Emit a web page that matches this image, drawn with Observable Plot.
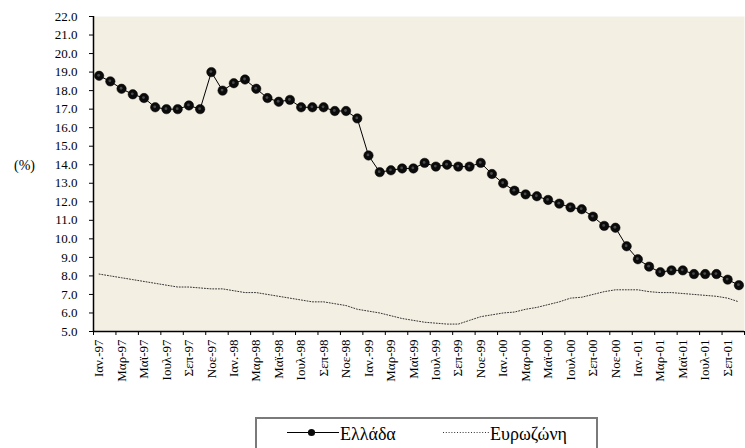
<!DOCTYPE html>
<html>
<head>
<meta charset="utf-8">
<script src="https://cdn.jsdelivr.net/npm/d3@7"></script>
<script src="https://cdn.jsdelivr.net/npm/@observablehq/plot@0.6"></script>
<style>
  html, body { margin: 0; padding: 0; background: #fff; }
  #wrap { position: relative; width: 745px; height: 448px; overflow: hidden; font-family: "Liberation Serif", "DejaVu Serif", serif; }
  #legend { position: absolute; left: 255px; top: 417px; width: 343px; height: 40px; border: 2px solid #7a7a7a; box-sizing: border-box; background: #fff; }
  .lg-text { position: absolute; font-family: "Liberation Serif", "DejaVu Serif", serif; font-size: 18px; line-height: 18px; color: #000; white-space: nowrap; }
  #legend-svg { position: absolute; left: 0; top: 0; }
</style>
</head>
<body>
<div id="wrap">
  <div id="chart"></div>
  <div id="legend"></div>
</div>
<script>
// ---- data ----
const monthNames = ["Ιαν.", "Φεβ", "Μαρ", "Απρ", "Μαϊ", "Ιουν", "Ιουλ", "Αυγ", "Σεπ", "Οκτ", "Νοε", "Δεκ"];
const years = ["97", "98", "99", "00", "01"];
const nMonths = 58; // Jan-97 .. Oct-01
const months = [];
for (const y of years) for (const m of monthNames) months.push(m + "-" + y);
months.length = nMonths;

const greece = [
  18.8, 18.5, 18.1, 17.8, 17.6, 17.1, 17.0, 17.0, 17.2, 17.0, 19.0, 18.0,
  18.4, 18.6, 18.1, 17.6, 17.4, 17.5, 17.1, 17.1, 17.1, 16.9, 16.9, 16.5,
  14.5, 13.6, 13.7, 13.8, 13.8, 14.1, 13.9, 14.0, 13.9, 13.9, 14.1, 13.5,
  13.0, 12.6, 12.4, 12.3, 12.1, 11.9, 11.7, 11.6, 11.2, 10.7, 10.6, 9.6,
  8.9, 8.5, 8.2, 8.3, 8.3, 8.1, 8.1, 8.1, 7.8, 7.5
];
const eurozone = [
  8.1, 8.0, 7.9, 7.8, 7.7, 7.6, 7.5, 7.4, 7.4, 7.35, 7.3, 7.3,
  7.2, 7.1, 7.1, 7.0, 6.9, 6.8, 6.7, 6.6, 6.6, 6.5, 6.4, 6.2,
  6.1, 6.0, 5.85, 5.7, 5.6, 5.5, 5.45, 5.4, 5.4, 5.6, 5.8, 5.9,
  6.0, 6.05, 6.2, 6.3, 6.45, 6.6, 6.8, 6.85, 7.0, 7.15, 7.25, 7.25,
  7.25, 7.15, 7.1, 7.1, 7.05, 7.0, 6.95, 6.9, 6.8, 6.6
];
const yTicks = [5, 6, 7, 8, 9, 10, 11, 12, 13, 14, 15, 16, 17, 18, 19, 20, 21, 22];
const seriesNames = ["Ελλάδα", "Ευρωζώνη"];
const yUnit = "(%)";

const rows = months.map((m, i) => ({i, m, gr: greece[i], ez: eurozone[i]}));
const labelIdx = d3.range(0, nMonths, 2);
const boundaryIdx = d3.range(-0.5, nMonths, 2).concat([nMonths - 0.5]);

const chart = Plot.plot({
  width: 745,
  height: 410,
  marginLeft: 93,
  marginRight: 1,
  marginTop: 16,
  marginBottom: 79,
  style: {fontFamily: "'Liberation Serif', 'DejaVu Serif', serif", fontSize: "13px", background: "#fff", color: "#000"},
  x: {type: "linear", domain: [-0.5, nMonths - 0.5]},
  y: {domain: [5, 22]},
  marks: [
    Plot.frame({fill: "#f3efe3", stroke: "none"}),
    Plot.axisY({ticks: yTicks, tickFormat: d => d.toFixed(1), tickSize: 4, tickPadding: 12, label: null, fontSize: 13}),
    Plot.axisX({ticks: boundaryIdx, tickSize: 4, tickFormat: () => "", label: null}),
    Plot.axisX({ticks: labelIdx, tickSize: 0, tickPadding: 8, tickRotate: -90, tickFormat: i => months[i], label: null, fontSize: 13}),
    Plot.ruleX([-0.5], {stroke: "#000", strokeWidth: 1.5}),
    Plot.ruleY([5], {stroke: "#000", strokeWidth: 1.5}),
    Plot.lineY(rows, {x: "i", y: "ez", stroke: "#333", strokeWidth: 1, strokeDasharray: "1,1.8"}),
    Plot.lineY(rows, {x: "i", y: "gr", stroke: "#000", strokeWidth: 1}),
    Plot.dot(rows, {x: "i", y: "gr", r: 4.7, fill: "#0b0b0b", stroke: "#000", strokeWidth: 0.5}),
    Plot.dot(rows, {x: "i", y: "gr", r: 1.4, fill: "#4a4a4a", dx: -0.5, dy: -0.5}),
    Plot.text([yUnit], {frameAnchor: "left", dx: -69, dy: -8, textAnchor: "middle", fontSize: 14})
  ]
});
document.getElementById("chart").appendChild(chart);

// ---- legend ----
const legend = document.getElementById("legend");
const ns = "http://www.w3.org/2000/svg";
const lsvg = document.createElementNS(ns, "svg");
lsvg.setAttribute("id", "legend-svg");
lsvg.setAttribute("width", 339);
lsvg.setAttribute("height", 36);
// offsets inside legend box: left border at 255 + 2px
const ox = 257, oy = 419;
function el(tag, attrs) { const e = document.createElementNS(ns, tag); for (const k in attrs) e.setAttribute(k, attrs[k]); lsvg.appendChild(e); return e; }
el("line", {x1: 287 - ox, x2: 339 - ox, y1: 432.5 - oy, y2: 432.5 - oy, stroke: "#000", "stroke-width": 1});
el("circle", {cx: 311.5 - ox, cy: 432.5 - oy, r: 3.6, fill: "#0b0b0b"});
el("line", {x1: 443 - ox, x2: 490 - ox, y1: 432.5 - oy, y2: 432.5 - oy, stroke: "#333", "stroke-width": 1, "stroke-dasharray": "1,1.8"});
legend.appendChild(lsvg);
const t1 = document.createElement("span");
t1.className = "lg-text"; t1.textContent = seriesNames[0];
t1.style.left = (340 - ox) + "px"; t1.style.top = (425 - oy) + "px";
legend.appendChild(t1);
const t2 = document.createElement("span");
t2.className = "lg-text"; t2.textContent = seriesNames[1];
t2.style.left = (490 - ox) + "px"; t2.style.top = (425 - oy) + "px";
legend.appendChild(t2);
</script>
</body>
</html>
